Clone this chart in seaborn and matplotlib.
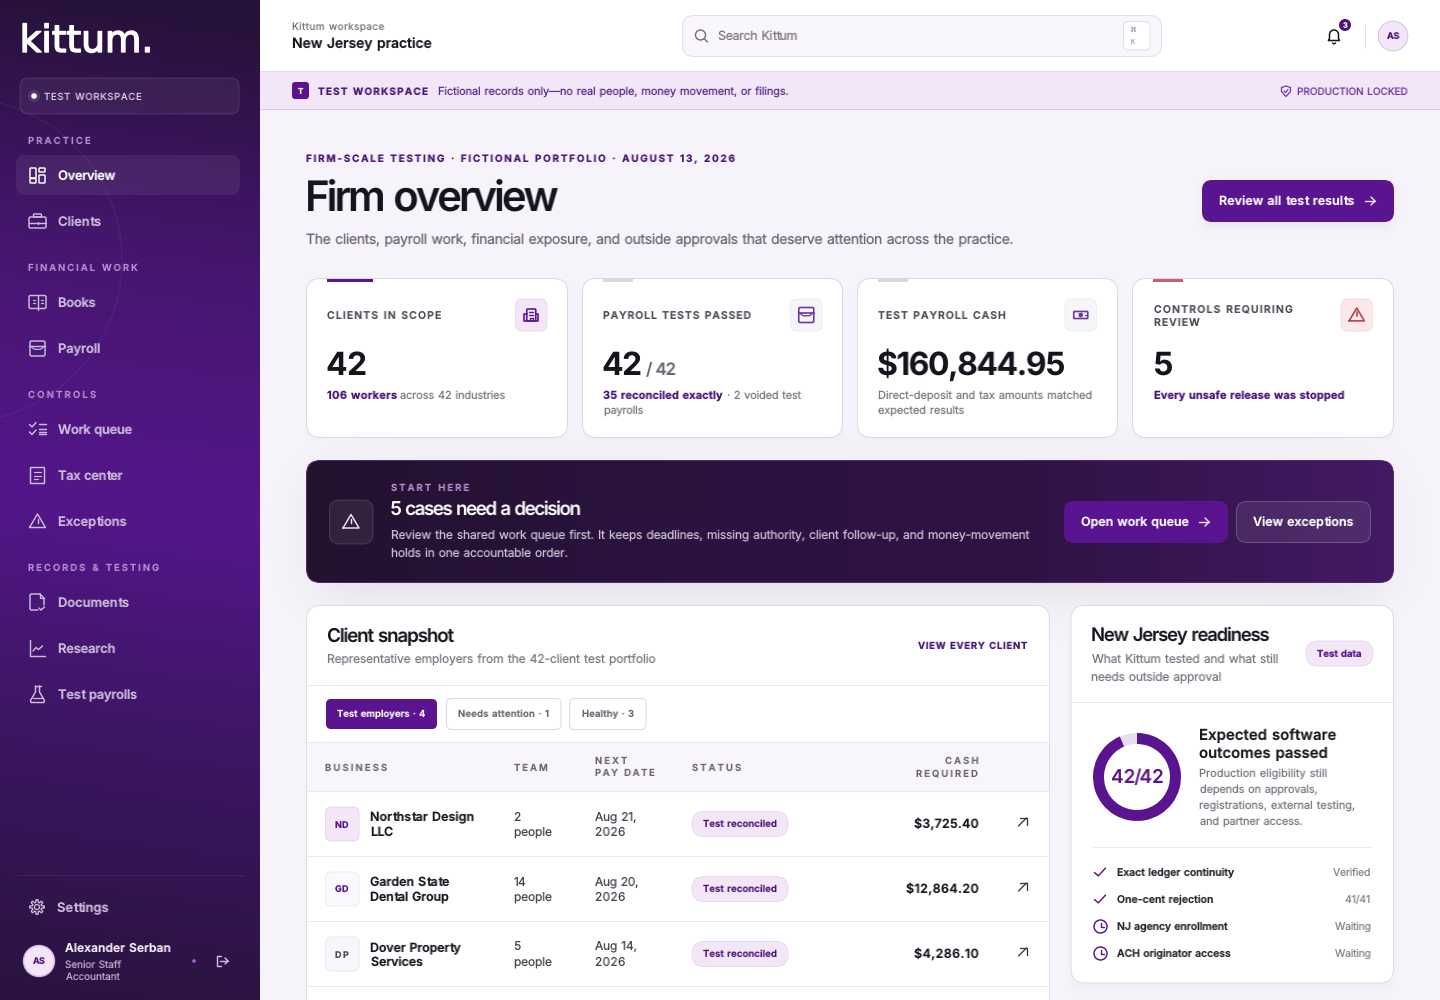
import numpy as np
import matplotlib
matplotlib.use("Agg")
import matplotlib.pyplot as plt
import matplotlib.patheffects as pe
from matplotlib.backends.backend_agg import get_hinting_flag
from matplotlib.font_manager import findfont, get_font
from matplotlib.patches import FancyBboxPatch, Circle
from matplotlib.colors import to_rgb
import seaborn as sns

# Text and values
logo = "kittum."
workspace_chip = "TEST WORKSPACE"
nav_sections = ["PRACTICE", "FINANCIAL WORK", "CONTROLS", "RECORDS & TESTING"]
nav_items = ["Overview", "Clients", "Books", "Payroll", "Work queue", "Tax center",
             "Exceptions", "Documents", "Research", "Test payrolls"]
user_name = "Alexander Serban"
user_role = ["Senior Staff", "Accountant"]
card_labels = [["CLIENTS IN SCOPE"], ["PAYROLL TESTS PASSED"], ["TEST PAYROLL CASH"],
               ["CONTROLS REQUIRING", "REVIEW"]]
card_values = ["42", "42", "$160,844.95", "5"]
table_tabs = ["Test employers · 4", "Needs attention · 1", "Healthy · 3"]
businesses = [["Northstar Design", "LLC"], ["Garden State", "Dental Group"], ["Dover Property", "Services"]]
initials = ["ND", "GD", "DP"]
team_sizes = ["2", "14", "5"]
pay_dates = ["Aug 21,", "Aug 20,", "Aug 14,"]
cash_required = ["$3,725.40", "$12,864.20", "$4,286.10"]
donut_values = [93.7, 6.3]
donut_label = "42/42"
ready_desc = ["Production eligibility still", "depends on approvals,",
              "registrations, external testing,", "and partner access."]
check_items = ["Exact ledger continuity", "One-cent rejection", "NJ agency enrollment", "ACH originator access"]
check_values = ["Verified", "41/41", "Waiting", "Waiting"]

# Colours
PURPLE = "#5a1490"
DEEP = "#4a1478"
INK = "#1a1620"
MUTED = "#7b7682"
GREY = "#6b6672"
NAV = "#cbbcdb"
NAV_HEAD = "#b48fd4"
LILAC = "#f2e6f7"
LINE = "#ece8f0"

sns.set_theme(style="white")
plt.rcParams["font.family"] = ["Inter", "DejaVu Sans"]
plt.rcParams["text.hinting"] = "no_hinting"

fig = plt.figure(figsize=(14.4, 10), dpi=100, facecolor="#f6f4fa")
ax = fig.add_axes([0, 0, 1, 1])
ax.axis("off")


def spaced(prop, s, width, color):
    # Letter spacing for one text: its glyphs get laid out again so the ink spans width
    font = get_font(findfont(prop))
    font.set_size(prop.get_size_in_points(), 100)
    flags = get_hinting_flag()
    pen = 0.0
    parts = []
    for i, ch in enumerate(s):
        g = font.load_char(ord(ch), flags=flags)
        font.set_text(ch, 0.0, flags=flags)
        font.draw_glyphs_to_bitmap(antialiased=True)
        bmp = np.asarray(font.get_image(), dtype=float) / 255
        if bmp.size and bmp.any():
            rows = np.flatnonzero(bmp.any(axis=1))
            cols = np.flatnonzero(bmp.any(axis=0))
            bmp = bmp[rows[0]:rows[-1] + 1, cols[0]:cols[-1] + 1]
            parts.append((i, pen + np.floor(g.horiBearingX / 64), -int(np.ceil(g.horiBearingY / 64)), bmp))
        pen += g.linearHoriAdvance / 65536 * (1.3 if ch == " " else 1)
    left = parts[0][1]
    natural = parts[-1][1] + parts[-1][3].shape[1] - left
    delta = (width - natural) / (len(s) - 1)
    top = min(p[2] for p in parts)
    bottom = max(p[2] + p[3].shape[0] for p in parts)
    out = np.zeros((bottom - top, int(np.ceil(width)) + 4))
    for i, gx, gy, bmp in parts:
        pos = gx - left + i * delta
        base = int(np.floor(pos))
        frac = pos - base
        h, w = bmp.shape
        out[gy - top:gy - top + h, base:base + w] += bmp * (1 - frac)
        out[gy - top:gy - top + h, base + 1:base + 1 + w] += bmp * frac
    rgba = np.zeros(out.shape + (4,))
    rgba[..., :3] = to_rgb(color)
    rgba[..., 3] = np.clip(out, 0, 1)
    return lambda img, dpi: (rgba, 0, 0)


def put(s, x, base, px, weight="normal", color=INK, x1=None, ha="left", family=None):
    t = ax.text(x, base, s, fontsize=px * 0.72, fontweight=weight, color=color,
                ha=ha, va="baseline", zorder=6)
    if family:
        t.set_family(family)
    width = None
    if x1 is not None and len(s) > 1:
        if ha == "right":
            x, x1 = x1 - 1, x - 1
            t.set_ha("left")
        width = x1 - x - 0.5
    if t.get_ha() == "left":
        # line the ink, not the origin, up with x
        prop = t.get_fontproperties()
        font = get_font(findfont(prop))
        font.set_size(prop.get_size_in_points(), 100)
        font.set_text(s[0])
        t.set_x(x - font.get_bitmap_offset()[0] / 64 + 1)
    if width is not None:
        t.set_agg_filter(spaced(t.get_fontproperties(), s, width, color))
    return t


def box(x0, y0, x1, y1, r, fc, ec="none", lw=1.0, alpha=None, z=2):
    p = FancyBboxPatch((x0, y0), x1 - x0, y1 - y0, boxstyle=f"round,pad=0,rounding_size={r}",
                       fc=fc, ec=ec, lw=lw * 0.72, alpha=alpha, zorder=z)
    ax.add_patch(p)
    return p


def white(a):
    return (1, 1, 1, a)


def hline(x0, x1, y, c=LINE):
    ax.plot([x0, x1], [y, y], color=c, lw=0.72, zorder=3)


def glow(x0, y0, x1, y1, blur, alpha, z=0.5):
    # soft drop shadow
    pad = blur * 4
    xs = np.arange(x0 - pad, x1 + pad)
    ys = np.arange(y0 - pad, y1 + pad)
    sx = 0.25 * (1 + np.tanh((xs - x0) / blur)) * (1 + np.tanh((x1 - xs) / blur))
    sy = 0.25 * (1 + np.tanh((ys - y0) / blur)) * (1 + np.tanh((y1 - ys) / blur))
    img = np.zeros((len(ys), len(xs), 4))
    img[..., :3] = to_rgb("#2a1a40")
    img[..., 3] = alpha * np.outer(sy, sx)
    ax.imshow(img, extent=(xs[0], xs[-1], ys[-1], ys[0]), aspect="auto", zorder=z, interpolation="bilinear")


def draw(cx, cy, pts, c, lw=1.05, z=5, closed=False):
    pts = np.array(pts, dtype=float)
    if closed:
        pts = np.vstack([pts, pts[:1]])
    ax.plot(cx + pts[:, 0], cy + pts[:, 1], color=c, lw=lw, zorder=z,
            solid_capstyle="round", solid_joinstyle="round")


def ring(cx, cy, r, c, lw=1.05, fc="none", z=5):
    ax.add_patch(Circle((cx, cy), r, fc=fc, ec=c, lw=lw, zorder=z))


def outline(cx, cy, x0, y0, x1, y1, r, c, lw=1.05, fc="none"):
    box(cx + x0, cy + y0, cx + x1, cy + y1, r, fc, c, lw / 0.72, z=5)


def arrow_right(cx, cy, c):
    draw(cx, cy, [(-5, 0), (5, 0)], c, 1.0)
    draw(cx, cy, [(1, -4), (5, 0), (1, 4)], c, 1.0)


def warning(cx, cy, c, lw=1.05, s=1.0):
    draw(cx, cy, [(-8 * s, 6.5 * s), (0, -7 * s), (8 * s, 6.5 * s)], c, lw, closed=True)
    draw(cx, cy, [(0, -2.5 * s), (0, 1.5 * s)], c, lw)
    draw(cx, cy, [(0, 4 * s), (0, 4.2 * s)], c, lw)


def inbox(cx, cy, c, lw=1.05):
    outline(cx, cy, -7.5, -7.5, 7.5, 7.5, 1.5, c, lw)
    draw(cx, cy, [(-7.5, -2.5), (7.5, -2.5)], c, lw)
    draw(cx, cy, [(-7.5, -2.5), (-3, 0.8), (3, 0.8), (7.5, -2.5)], c, lw * 0.8)


def check(cx, cy, c, s=1.0, lw=1.1):
    draw(cx, cy, [(-5 * s, 0.5 * s), (-1.5 * s, 3.5 * s), (5 * s, -3.5 * s)], c, lw)


# Sidebar gradient
side_stops = sns.blend_palette(["#27123a", "#461670", "#54168a", "#3b1660", "#2a1340"], 256, as_cmap=True)
gy, gx = np.mgrid[0:1000:500j, 0:260:130j]
side = ax.imshow(np.clip(gy / 1000 - 0.035 * gx / 260 + 0.01, 0, 1), cmap=side_stops, vmin=0, vmax=1,
                 extent=(0, 260, 1000, 0), aspect="auto", zorder=1.2, interpolation="bilinear")
ax.add_patch(Circle((-40, 260), 162, fc="none", ec=white(0.06), lw=0.8, zorder=1.3))

logo_text = put(logo, 22, 52, 37.5, "normal", "white", family="DejaVu Sans")
logo_text.set_path_effects([pe.withStroke(linewidth=1.0, foreground="white")])
box(20, 78, 239, 114, 8, white(0.06), white(0.12), z=2)
ring(34, 96, 6, "none", fc=white(0.1), lw=0)
ring(34, 96, 2.8, "none", fc="white", lw=0)
put(workspace_chip, 43.5, 100, 9.5, "normal", "#d9cfe5", x1=142)

section_y = [144, 271, 398, 571]
section_x1 = [91, 138, 96, 159]
for s, y, x1 in zip(nav_sections, section_y, section_x1):
    put(s, 27.5, y, 9.5, "semibold", NAV_HEAD, x1=x1)

box(16, 155, 240, 195, 10, white(0.07), z=2)
nav_y = [179.5, 225.5, 306.5, 353, 434, 479.5, 525.5, 606.5, 652.5, 699]
nav_x1 = [115, 100.5, 95, 99.5, 132, 123, 126, 128.5, 115, 136.5]
for i, (s, y, x1) in enumerate(zip(nav_items, nav_y, nav_x1)):
    put(s, 57, y, 13, "semibold", "white" if i == 0 else NAV, x1=x1)

# Sidebar icons
c = "white"
outline(38, 175, -8, -7, -2, 3, 0.8, c)
outline(38, 175, 1, -7, 7, -3, 0.8, c)
outline(38, 175, -8, 3.5, -2, 8, 0.8, c)
outline(38, 175, 1, 0, 7, 8, 0.8, c)
c = NAV
outline(37.5, 222, -8.5, -5, 8.5, 6, 1.5, c)
outline(37.5, 222, -4, -8, 4, -5, 1, c)
draw(37.5, 222, [(-8.5, 1), (8.5, 1)], c)
draw(37.5, 222, [(0, 0), (0, 2)], c)
outline(37.5, 302, -8.5, -6.5, 8.5, 6.5, 1.5, c)
draw(37.5, 302, [(0, -6.5), (0, 8)], c)
for dx in (-5, 3):
    draw(37.5, 302, [(dx, -2.5), (dx + 2.5, -2.5)], c, 0.9)
    draw(37.5, 302, [(dx, 1), (dx + 2.5, 1)], c, 0.9)
inbox(37.5, 348.5, c)
for dy in (-4.5, 3):
    draw(37, 429, [(-7.5, dy), (-5, dy + 2.5), (-1, dy - 2)], c)
    draw(37, 429, [(2, dy - 0.5), (8.5, dy - 0.5)], c)
draw(37, 429, [(2, 0), (8.5, 0)], c)
draw(37, 429, [(2, 5), (8.5, 5)], c)
outline(37.5, 475.5, -7, -8, 7, 8, 0.6, c)
for dy, w in ((-3.5, 3), (0, 3), (3.5, 0.5)):
    draw(37.5, 475.5, [(-4, dy), (w, dy)], c, 0.9)
warning(37.5, 521, c)
draw(37, 602, [(3, -8), (-6, -8), (-7, -7), (-7, 7), (-6, 8), (1, 8)], c)
draw(37, 602, [(3, -8), (7, -4), (7, 3)], c)
draw(37, 602, [(3, -8), (3, -4), (7, -4)], c, 0.9)
draw(37, 602, [(2, 6), (4, 8), (7.5, 5)], c)
draw(37.5, 648, [(-7.5, -8), (-7.5, 7.5), (7.5, 7.5)], c)
draw(37.5, 648, [(-4.5, 3), (-1.5, -0.5), (1, 1.5), (5, -2)], c)
draw(37.5, 694.5, [(-3, -8.5), (3, -8.5)], c)
draw(37.5, 694.5, [(-2, -8.5), (-2, -2.5), (-7, 6), (-6.5, 8), (6.5, 8), (7, 6), (2, -2.5), (2, -8.5)], c)
draw(37.5, 694.5, [(-5, 3), (5, 3)], c, 0.9)

# Settings, user
hline(16, 244, 875, white(0.07))
th = np.linspace(0, 2 * np.pi, 97)
gear_r = 6.0 + 1.3 * np.clip(2.4 * np.cos(8 * th), -1, 1)
draw(37, 907, np.c_[gear_r * np.cos(th), gear_r * np.sin(th)], NAV, 0.95)
ring(37, 907, 2.5, NAV, 0.95)
put("Settings", 56, 912, 13, "semibold", NAV, x1=108)
ring(39, 961, 15.5, "#d4b8e8", 1.0, fc=LILAC)
put("AS", 32, 965, 9, "bold", PURPLE, x1=44.5)
put(user_name, 64, 952, 12, "semibold", "#f6f0fa", x1=170)
put(user_role[0], 65, 969, 10, "normal", "#bdaecb", x1=122)
put(user_role[1], 65, 980, 10, "normal", "#bdaecb", x1=120)
ring(194, 961, 1.8, "none", fc="#a55fd2", lw=0)
draw(222, 961, [(-1, -5), (-5, -5), (-5, 5), (-1, 5)], NAV)
draw(222, 961, [(-2, 0), (6, 0)], NAV)
draw(222, 961, [(3, -3), (6, 0), (3, 3)], NAV)

# Top bar and banner
ax.fill_between([260, 1440], 0, 71, color="white", lw=0, zorder=1)
hline(260, 1440, 71, "#e2dbe9")
put("Kittum workspace", 292, 30, 10, "normal", "#77707f", x1=385)
put("New Jersey practice", 292, 48, 14, "semibold", INK, x1=432)
box(682.5, 15.5, 1161.5, 56.5, 12, "#f9f6fc", "#ead9f2")
ring(700.5, 35, 5, "#6b6672", 0.95)
draw(700.5, 35, [(3.8, 3.8), (7, 7)], "#6b6672", 0.95)
put("Search Kittum", 718, 40, 12.5, "normal", "#7a7482", x1=798)
box(1123.5, 21.5, 1150, 50, 5, "white", "#e8daf1")
put("⌘", 1133, 32, 7, "normal", "#8a8590", ha="center", family="DejaVu Sans")
put("K", 1133, 43.5, 7, "normal", "#8a8590", ha="center", family="DejaVu Sans Mono")
bell_x = np.r_[-5.5, -4.5, 4.5 * np.cos(np.linspace(np.pi, 0, 13)), 4.5, 5.5]
bell_y = np.r_[4.5, 2.5, -1.5 - 4.5 * np.sin(np.linspace(np.pi, 0, 13)), 2.5, 4.5]
draw(1334, 36, np.c_[bell_x, bell_y], INK, 1.1, closed=True)
draw(1334, 36, [(-1.5, 7), (0, 8), (1.5, 7)], INK, 1.0)
ring(1345, 25, 6, "none", fc=DEEP, lw=0)
put("3", 1345, 27.7, 7.5, "bold", "white", ha="center")
ax.plot([1365, 1365], [24, 48], color="#e4dfea", lw=0.72, zorder=3)
ring(1393, 36, 14.8, "#d9c2e8", 0.75, fc=LILAC)
put("AS", 1386, 39.5, 9, "bold", DEEP, x1=1399)

ax.fill_between([260, 1440], 72, 109, color=LILAC, lw=0, zorder=1)
hline(260, 1440, 109, "#d9c8e4")
box(292, 82, 309, 99, 3, PURPLE)
put("T", 300.5, 94, 8, "bold", "white", ha="center")
put("TEST WORKSPACE", 317.5, 95, 10, "bold", DEEP, x1=428)
put("Fictional records only—no real people, money movement, or filings.", 438, 95.6, 11, "normal", "#5c2b88", x1=789)
draw(1286, 91, [(-4.5, -3.5), (0, -5), (4.5, -3.5), (4.5, 0.5), (0, 5.5), (-4.5, 0.5)], "#6a2fa0", 0.85, closed=True)
draw(1286, 91, [(-2, 0), (-0.5, 1.5), (2, -1.5)], "#6a2fa0", 0.8)
put("PRODUCTION LOCKED", 1297, 95, 10, "normal", "#6a2fa0", x1=1408)

# Page heading
put("FIRM-SCALE TESTING · FICTIONAL PORTFOLIO · AUGUST 13, 2026", 306, 162, 10, "bold", DEEP, x1=736)
put("Firm overview", 307, 211, 42, "semibold", "#17131c", x1=558)
put("The clients, payroll work, financial exposure, and outside approvals that deserve attention across the practice.",
    306, 244, 14, "normal", GREY, x1=1014)
glow(1205, 186, 1391, 224, 7, 0.12)
box(1202, 180, 1394, 222, 10, PURPLE)
put("Review all test results", 1219, 205, 12.5, "semibold", "white", x1=1355)
arrow_right(1370, 201, "#f0e6f8")

# Stat cards
card_x = [(306, 568), (582, 843), (857, 1118), (1132, 1394)]
accent = [(327, 373, PURPLE), (603, 633, "#d9d5e1"), (878, 908, "#d9d5e1"), (1153, 1183, "#c8606e")]
label_x0 = [326.5, 603, 877.5, 1153.5]
label_x1 = [[441], [752], [1006], [1293, 1200]]
value_x0 = [326, 602, 877.5, 1154]
value_x1 = [365.5, 640.5, 1064, 1173]
icon_box = [(515.5, LILAC, "#e8d8f0", "#5a1a94"), (790.5, "#f7f5fa", "#eeebf3", "#6a3a9c"),
            (1065, "#f7f5fa", "#eeebf3", "#6a3a9c"), (1341, "#fbe8ea", "#f5dde0", "#b5444f")]
for i, (x0, x1) in enumerate(card_x):
    glow(x0 + 2, 282, x1 - 2, 440, 5, 0.025)
    box(x0 + 0.5, 278.5, x1 - 0.5, 437.5, 14, "white", "#ddd8e6")
    a0, a1, ac = accent[i]
    ax.fill_between([a0, a1], 279, 281.5, color=ac, lw=0, zorder=3)
    labels = card_labels[i]
    ys = [319] if len(labels) == 1 else [312, 326]
    for s, y, e in zip(labels, ys, label_x1[i]):
        put(s, label_x0[i], y, 10.5, "semibold", "#4e4a56", x1=e)
    put(card_values[i], value_x0[i], 375, 32, "bold", "#17131c", x1=value_x1[i])
    bx, bf, be, ic = icon_box[i]
    box(bx, 299, bx + 31.5, 331, 7, bf, be)
    cx, cy = bx + 15.75, 315
    if i == 0:
        outline(cx, cy, -4.5, -6, 4.5, 6, 1, ic, 1.2)
        draw(cx, cy, [(-4.5, -1), (-7, -1), (-7, 6), (7, 6), (7, -1), (4.5, -1)], ic, 1.2)
        draw(cx, cy, [(-2, -3), (2, -3)], ic, 1.0)
        draw(cx, cy, [(-2, 0), (2, 0)], ic, 1.0)
        draw(cx, cy, [(-1.5, 6), (-1.5, 3), (1.5, 3), (1.5, 6)], ic, 1.0)
    elif i == 1:
        inbox(cx, cy, ic, 1.2)
    elif i == 2:
        outline(cx, cy, -7, -3.5, 7, 3.5, 0.8, ic, 1.2)
        ring(cx, cy, 1.7, ic, 0.9, fc=ic)
        draw(cx, cy, [(-5, 0), (-4.6, 0)], ic, 0.9)
        draw(cx, cy, [(4.6, 0), (5, 0)], ic, 0.9)
    else:
        warning(cx, cy - 0.3, ic, 1.2, 0.95)

put("/ 42", 645, 375, 17, "semibold", GREY, x1=675)
put("106 workers", 326.5, 399, 11, "bold", DEEP, x1=397)
put("across 42 industries", 400, 399, 11, "normal", MUTED, x1=506)
put("35 reconciled exactly", 603, 399, 11, "bold", DEEP, x1=723.5)
put("· 2 voided test", 727, 399, 11, "normal", MUTED, x1=802)
put("payrolls", 603, 414, 11, "normal", MUTED, x1=643)
put("Direct-deposit and tax amounts matched", 878, 399, 11, "normal", MUTED, x1=1093)
put("expected results", 878, 414, 11, "normal", MUTED, x1=965)
put("Every unsafe release was stopped", 1154, 399, 11, "bold", DEEP, x1=1345)

# Hero banner
glow(320, 478, 1380, 590, 30, 0.12)
hero = box(306.5, 460.5, 1393.5, 582.5, 14, "none", "#4d2a6e", z=3)
hero_map = sns.blend_palette(["#24122f", "#2b123f", "#2f1345", "#431a63"], 256, as_cmap=True)
hx = np.linspace(0, 1, 300).reshape(1, -1)
hero_img = ax.imshow(hx, cmap=hero_map, vmin=0, vmax=1, extent=(306, 1394, 583, 460), aspect="auto", zorder=2.5)
hero_img.set_clip_path(hero)
box(329.5, 500, 373, 544, 10, white(0.07), white(0.14), z=3)
warning(351, 521.5, "#eee6f4", 1.05)
put("START HERE", 390, 491, 9.5, "semibold", "#b792d4", x1=469)
put("5 cases need a decision", 390, 515, 19, "semibold", "white", x1=580)
put("Review the shared work queue first. It keeps deadlines, missing authority, client follow-up, and money-movement",
    391, 538.4, 12, "normal", "#c9c0d2", x1=1030)
put("holds in one accountable order.", 391, 557, 12, "normal", "#c9c0d2", x1=568)
box(1064, 501, 1228, 543, 10, PURPLE, z=3)
put("Open work queue", 1081, 526, 12.5, "semibold", "white", x1=1189)
arrow_right(1204, 522, "#f0e6f8")
box(1236.5, 501.5, 1370.5, 542.5, 10, white(0.08), white(0.22), z=3)
put("View exceptions", 1252, 526, 12.5, "semibold", "white", x1=1353)

# Client snapshot panel
box(306.5, 605.5, 1049.5, 1040, 14, "white", "#dfdbe7")
put("Client snapshot", 327, 642, 19, "semibold", "#17131c", x1=455)
put("Representative employers from the 42-client test portfolio", 327, 662.4, 12, "normal", MUTED, x1=656)
put("VIEW EVERY CLIENT", 917.5, 649, 9.5, "bold", DEEP, x1=1028)
hline(307, 1049, 685)

tab_box = [(326, 437), (446.5, 561), (569.5, 646)]
tab_text = [(336.5, 425), (458, 549.5), (581.5, 634)]
tab_base = [717.5, 717, 717.5]
for i, (s, (b0, b1), (t0, t1)) in enumerate(zip(table_tabs, tab_box, tab_text)):
    if i == 0:
        box(b0, 699, b1, 729, 5, PURPLE)
    else:
        box(b0, 698.5, b1, 729.5, 5, "white", "#dcd8e3")
    put(s, t0, tab_base[i], 9.5, "semibold", "white" if i == 0 else GREY, x1=t1)

ax.fill_between([307, 1049], 742, 791, color="#f8f6fb", lw=0, zorder=2.2)
hline(307, 1049, 742)
hline(307, 1049, 791)
put("BUSINESS", 324.5, 771, 9.5, "semibold", GREY, x1=387)
put("TEAM", 513.5, 771, 9.5, "semibold", GREY, x1=548)
put("NEXT", 594.5, 764, 9.5, "semibold", GREY, x1=628)
put("PAY DATE", 594.5, 776, 9.5, "semibold", GREY, x1=655)
put("STATUS", 691.5, 771, 9.5, "semibold", GREY, x1=741)
put("CASH", 979, 764, 9.5, "semibold", GREY, x1=945, ha="right")
put("REQUIRED", 979, 776, 9.5, "semibold", GREY, x1=916.5, ha="right")

row_c = [824, 889, 954]
name_x1 = [[474, 392.5], [449.5, 449.5], [462, 422.5]]
date_x1 = [636, 638, 636.5]
team_x1 = [None, 526, None]
amount_x0 = [914, 906, 914]
badge_style = [(LILAC, "#e8d8f0", PURPLE), ("#fbf9fd", "#efeaf4", PURPLE), ("#f8f6fb", "#ece8f1", "#4e4a56")]
for i, cy in enumerate(row_c):
    bf, be, bt = badge_style[i]
    box(325.5, cy - 17, 359, cy + 17, 6, bf, be)
    put(initials[i], 334.5, cy + 3.5, 9, "bold", bt, x1=349)
    put(businesses[i][0], 370, cy - 3, 12.5, "semibold", INK, x1=name_x1[i][0])
    put(businesses[i][1], 370, cy + 12, 12.5, "semibold", INK, x1=name_x1[i][1])
    put(team_sizes[i], 513.5, cy - 3, 12, "normal", "#47434e", x1=team_x1[i])
    put("people", 513.5, cy + 12.6, 12, "normal", "#47434e", x1=552)
    put(pay_dates[i], 594.5, cy - 3.5, 12, "normal", "#47434e", x1=date_x1[i])
    put("2026", 594.5, cy + 12, 12, "normal", "#47434e", x1=625)
    box(692, cy - 12.5, 788, cy + 12.5, 12.5, LILAC, "#e8daf0")
    put("Test reconciled", 702.5, cy + 3, 9.5, "semibold", DEEP, x1=777)
    put(cash_required[i], 979, cy + 4, 12.5, "semibold", INK, x1=amount_x0[i], ha="right")
    draw(1022.5, cy - 2, [(-4, 4), (4, -4)], "#3a3640", 0.95)
    draw(1022.5, cy - 2, [(-2.5, -4), (4, -4), (4, 2.5)], "#3a3640", 0.95)
    hline(307, 1049, cy + 32)

# New Jersey readiness panel
glow(1073, 612, 1391, 986, 6, 0.05, z=0.6)
box(1071, 605.5, 1393.5, 983, 14, "white", "#dfdbe7")
put("New Jersey readiness", 1091, 641, 18.5, "semibold", "#17131c", x1=1269)
put("What Kittum tested and what still", 1091, 663, 12, "normal", MUTED, x1=1278)
put("needs outside approval", 1091, 681, 12, "normal", MUTED, x1=1222)
box(1306, 641, 1373, 666, 12.5, LILAC, "#e8daf0")
put("Test data", 1316.5, 657, 9.5, "bold", PURPLE, x1=1362)
hline(1072, 1393, 702)

donut_ax = fig.add_axes([(1137 - 44) / 1440, 1 - (777 + 44) / 1000, 88 / 1440, 88 / 1000], zorder=3)
donut_ax.pie(donut_values, colors=[PURPLE, "#e8dcf2"], startangle=90, counterclock=False, radius=1,
             wedgeprops={"width": 0.25, "linewidth": 0})
donut_ax.set_xlim(-1, 1)
donut_ax.set_ylim(-1, 1)
donut_ax.patch.set_visible(False)
put(donut_label, 1110.5, 783, 19, "semibold", PURPLE, x1=1162)

put("Expected software", 1199, 740, 15, "semibold", INK, x1=1336)
put("outcomes passed", 1199, 758, 15, "semibold", INK, x1=1328)
desc_y = [777, 793, 809, 825]
desc_x1 = [1327, 1317, 1355.5, 1302]
for s, y, x1 in zip(ready_desc, desc_y, desc_x1):
    put(s, 1199, y, 11, "normal", MUTED, x1=x1)
hline(1093, 1371, 847)

check_y = [872.5, 899.5, 926.5, 953.5]
check_base = [876, 903, 930.5, 957]
check_x1 = [1235, 1213, 1228, 1231]
value_x0 = [1333.5, 1345.5, 1335, 1335]
for i, y in enumerate(check_y):
    if i < 2:
        check(1100, y - 0.5, PURPLE, 1.1, 1.05)
    else:
        ring(1100.5, y, 6.5, PURPLE, 1.05)
        draw(1100.5, y, [(0, -3.5), (0, 0.3), (3, 0.3)], PURPLE, 1.0)
    put(check_items[i], 1116.5, check_base[i], 10.5, "semibold", "#2a2630", x1=check_x1[i])
    put(check_values[i], 1371, y + 3.5, 10.5, "normal", "#8a8590", x1=value_x0[i], ha="right")

ax.set_xlim(0, 1440)
ax.set_ylim(1000, 0)
fig.savefig("out.png", dpi=100, facecolor=fig.get_facecolor())
